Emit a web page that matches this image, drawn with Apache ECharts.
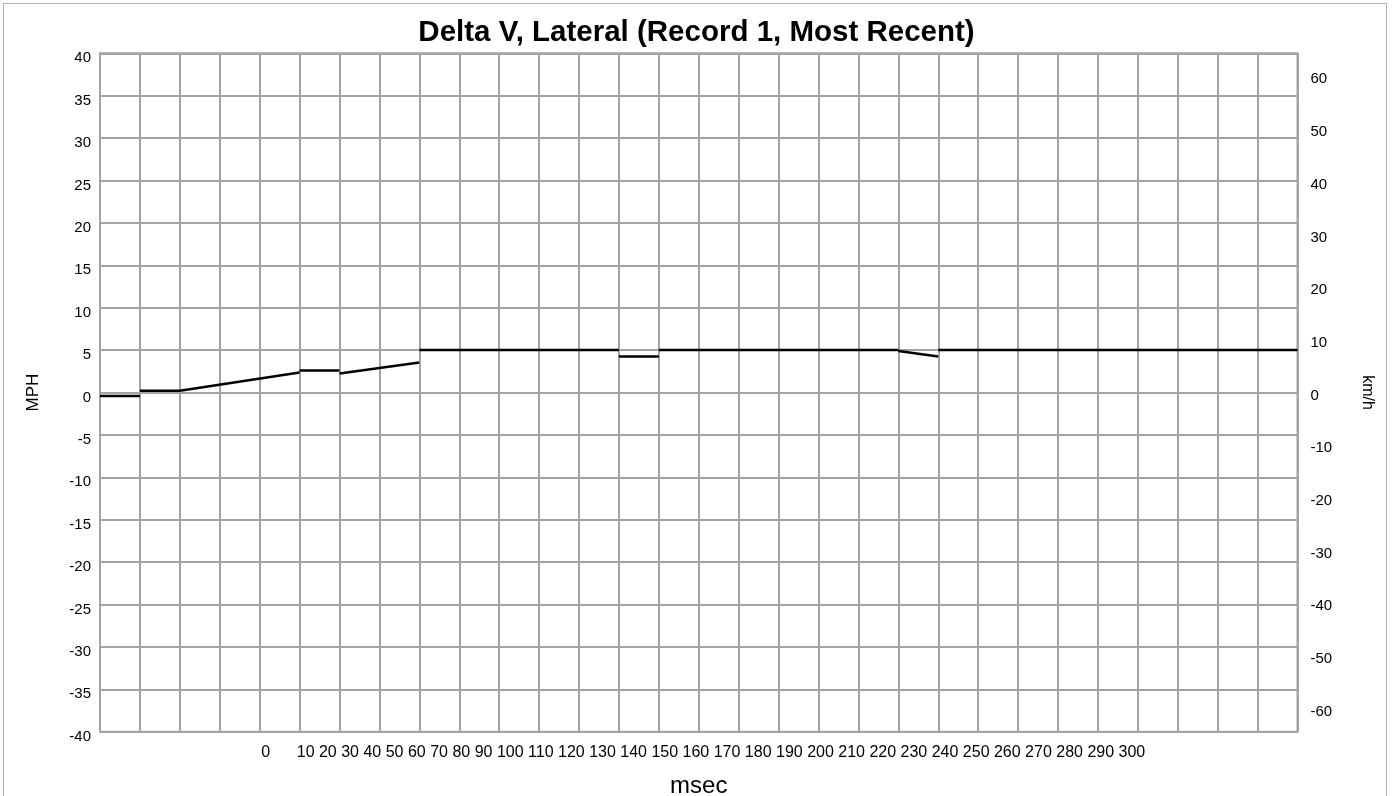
<!DOCTYPE html>
<html>
<head>
<meta charset="utf-8">
<script src="https://cdn.jsdelivr.net/npm/echarts@6/dist/echarts.min.js"></script>
<style>
  html, body { margin: 0; padding: 0; background: #fff; }
  #chart { position: absolute; left: 0; top: 0; width: 1393px; height: 796px; }
  #frame { position: absolute; left: 3px; top: 3px; width: 1384px; height: 900px; border: 1px solid #b4b4b4; box-sizing: border-box; pointer-events: none; }
</style>
</head>
<body>
<div id="chart"></div>
<div id="frame"></div>
<script>
// ---- data ----
const chartTitle = 'Delta V, Lateral (Record 1, Most Recent)';
const leftAxisName = 'MPH';
const rightAxisName = 'km/h';
const xAxisName = 'msec';

// x tick labels as printed in the reference (one text row)
const xTickLabels = ['0', '10', '20', '30', '40', '50', '60', '70', '80', '90', '100', '110', '120', '130', '140', '150',
  '160', '170', '180', '190', '200', '210', '220', '230', '240', '250', '260', '270', '280', '290', '300'];

// right axis (km/h) tick values
const rightTicks = [-60, -50, -40, -30, -20, -10, 0, 10, 20, 30, 40, 50, 60];

// line segments (msec, MPH)
const segStartMs  = [0,    10,  20,   50,   60,   80,  130,  140, 200,  210];
const segEndMs    = [10,   20,  50,   60,   80,   130, 140,  200, 210,  300];
const segStartMph = [-0.4, 0.2, 0.2,  2.6,  2.25, 5.0, 4.25, 5.0, 4.9,  5.0];
const segEndMph   = [-0.4, 0.2, 2.35, 2.6,  3.55, 5.0, 4.25, 5.0, 4.25, 5.0];

const MPH_MIN = -40, MPH_MAX = 40;
const KMH_PER_MPH = 1.609344;

// ---- build ----
const lineData = [];
for (let i = 0; i < segStartMs.length; i++) {
  lineData.push([segStartMs[i], segStartMph[i]]);
  lineData.push([segEndMs[i], segEndMph[i]]);
  lineData.push([segEndMs[i], '-']);
}
const xLabelRow = '  ' + xTickLabels[0] + '      ' + xTickLabels.slice(1).join(' ');

const FONT = '"Liberation Sans", Arial, sans-serif';
const GRID_COLOR = '#a3a3a3';

const chart = echarts.init(document.getElementById('chart'), null, { renderer: 'canvas' });
chart.setOption({
  animation: false,
  backgroundColor: '#fff',
  title: {
    text: chartTitle,
    left: 'center',
    top: 18,
    padding: 0,
    textStyle: { fontFamily: FONT, fontSize: 29.5, fontWeight: 'bold', color: '#000' }
  },
  grid: {
    left: 100, right: 95.5, top: 53.3, bottom: 64.3,
    containLabel: false,
    outerBoundsMode: 'none',
    show: true, borderColor: GRID_COLOR, borderWidth: 2
  },
  xAxis: [
    {
      type: 'value', min: 0, max: 300, interval: 10,
      name: xAxisName, nameLocation: 'middle', nameGap: 43,
      nameTextStyle: { fontFamily: FONT, fontSize: 24, color: '#000' },
      axisLine: { show: false }, axisTick: { show: false }, axisLabel: { show: false },
      splitLine: { show: true, lineStyle: { color: GRID_COLOR, width: 2 } }
    },
    {
      type: 'category', position: 'bottom', data: [xLabelRow],
      axisLine: { show: false }, axisTick: { show: false }, splitLine: { show: false },
      axisLabel: { interval: 0, margin: 13, fontFamily: FONT, fontSize: 16, color: '#000' }
    }
  ],
  yAxis: [
    {
      type: 'value', min: MPH_MIN, max: MPH_MAX, interval: 5,
      name: leftAxisName, nameLocation: 'middle', nameGap: 58, nameRotate: 90,
      nameTextStyle: { fontFamily: FONT, fontSize: 17, color: '#000' },
      axisLine: { show: false }, axisTick: { show: false },
      axisLabel: { margin: 9, fontFamily: FONT, fontSize: 15, color: '#000', verticalAlign: 'top', lineHeight: 10 },
      splitLine: { show: true, lineStyle: { color: GRID_COLOR, width: 2 } }
    },
    {
      type: 'value', position: 'right',
      min: MPH_MIN * KMH_PER_MPH, max: MPH_MAX * KMH_PER_MPH,
      name: rightAxisName, nameLocation: 'middle', nameGap: 62, nameRotate: -90,
      nameTextStyle: { fontFamily: FONT, fontSize: 16, color: '#000' },
      axisLine: { show: false }, axisTick: { show: false },
      axisLabel: { customValues: rightTicks, margin: 13, fontFamily: FONT, fontSize: 15, color: '#000', verticalAlign: 'top', lineHeight: 6 },
      splitLine: { show: false }
    }
  ],
  series: [
    {
      type: 'line', xAxisIndex: 0, yAxisIndex: 0,
      data: lineData, showSymbol: false, connectNulls: false,
      lineStyle: { color: '#000', width: 2.5 }, z: 5
    }
  ]
});
</script>
</body>
</html>
